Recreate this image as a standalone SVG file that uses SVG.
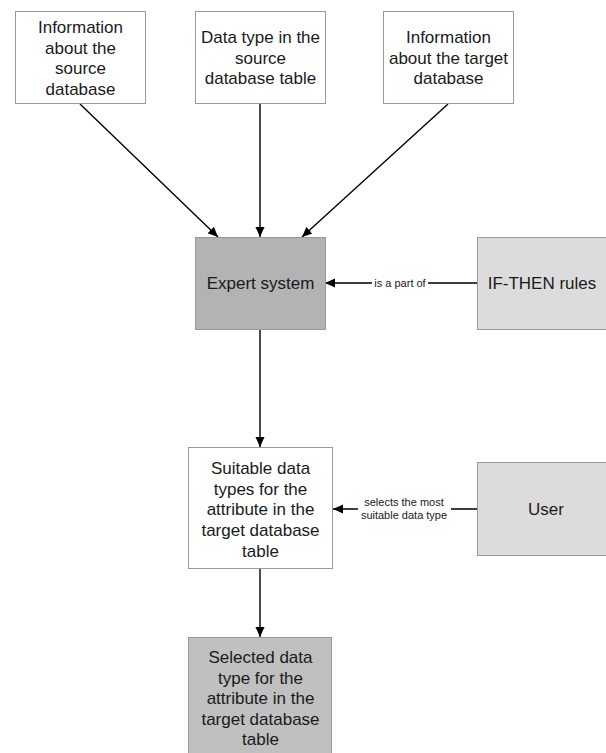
<svg xmlns="http://www.w3.org/2000/svg" width="606" height="753" viewBox="0 0 606 753">
<defs>
<marker id="arr" markerUnits="userSpaceOnUse" markerWidth="11" markerHeight="10" refX="10" refY="5" orient="auto" viewBox="0 0 11 10">
<path d="M0,0.5 L10,5 L0,9.5 z" fill="#000"/>
</marker>
<style>
.box{stroke:#999;stroke-width:1}
.white{fill:#fff}
.dark{fill:#b3b3b3}
.light{fill:#dcdcdc}
.mid{fill:#c0c0c0}
.t{font-family:"Liberation Sans",Arial,sans-serif;font-size:17px;fill:#1a1a1a;text-anchor:middle}
.lbl{font-family:"Liberation Sans",Arial,sans-serif;font-size:11px;fill:#1a1a1a;text-anchor:middle}
.c{stroke:#000;stroke-width:1.4;fill:none}
</style>
</defs>
<rect width="606" height="753" fill="#fff"/>
<g id="connectors">
<line class="c" x1="80" y1="104" x2="218" y2="237" marker-end="url(#arr)"/>
<line class="c" x1="260" y1="104" x2="260" y2="237" marker-end="url(#arr)"/>
<line class="c" x1="448" y1="104" x2="302" y2="237" marker-end="url(#arr)"/>
<line class="c" x1="477" y1="283" x2="325" y2="283" marker-end="url(#arr)"/>
<rect x="372" y="276" width="56" height="14" fill="#fff"/>
<text class="lbl" x="400" y="287">is a part of</text>
<line class="c" x1="260" y1="329" x2="260" y2="447" marker-end="url(#arr)"/>
<line class="c" x1="477" y1="509" x2="333" y2="509" marker-end="url(#arr)"/>
<rect x="358" y="495" width="93" height="28" fill="#fff"/>
<text class="lbl" x="404" y="506">selects the most</text>
<text class="lbl" x="404" y="519">suitable data type</text>
<line class="c" x1="260" y1="569" x2="260" y2="637" marker-end="url(#arr)"/>
</g>
<g id="n1">
<rect class="box white" x="15.5" y="11.5" width="130" height="92"/>
<text class="t" x="80.5" y="33">Information</text>
<text class="t" x="80.5" y="54">about the</text>
<text class="t" x="80.5" y="74">source</text>
<text class="t" x="80.5" y="95">database</text>
</g>
<g id="n2">
<rect class="box white" x="195.5" y="11.5" width="130" height="92"/>
<text class="t" x="260.5" y="43">Data type in the</text>
<text class="t" x="260.5" y="64">source</text>
<text class="t" x="260.5" y="84">database table</text>
</g>
<g id="n3">
<rect class="box white" x="383.5" y="11.5" width="130" height="92"/>
<text class="t" x="448.5" y="43">Information</text>
<text class="t" x="448.5" y="64">about the target</text>
<text class="t" x="448.5" y="84">database</text>
</g>
<g id="expert">
<rect class="box dark" x="195.5" y="237.5" width="130" height="92"/>
<text class="t" x="260.5" y="289">Expert system</text>
</g>
<g id="rules">
<rect class="box light" x="477.5" y="237.5" width="132" height="92"/>
<text class="t" x="542" y="289">IF-THEN rules</text>
</g>
<g id="suitable">
<rect class="box white" x="188.5" y="447.5" width="144" height="121"/>
<text class="t" x="260.5" y="474">Suitable data</text>
<text class="t" x="260.5" y="495">types for the</text>
<text class="t" x="260.5" y="515">attribute in the</text>
<text class="t" x="260.5" y="536">target database</text>
<text class="t" x="260.5" y="557">table</text>
</g>
<g id="user">
<rect class="box light" x="477.5" y="462.5" width="136" height="93"/>
<text class="t" x="546" y="515">User</text>
</g>
<g id="selected">
<rect class="box mid" x="188.5" y="637.5" width="143" height="122"/>
<text class="t" x="260.5" y="663">Selected data</text>
<text class="t" x="260.5" y="684">type for the</text>
<text class="t" x="260.5" y="704">attribute in the</text>
<text class="t" x="260.5" y="725">target database</text>
<text class="t" x="260.5" y="745">table</text>
</g>
</svg>
